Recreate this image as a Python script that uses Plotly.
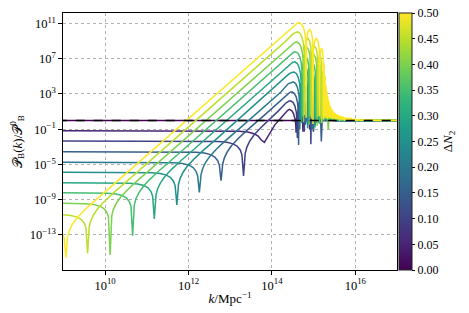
import numpy as np
import plotly.graph_objects as go
from plotly.colors import sample_colorscale

# Delta N_2 values of the curves (colour axis)
delta_n2 = [0.05, 0.10, 0.15, 0.20, 0.25, 0.30, 0.35, 0.40, 0.45, 0.50]

# Points: (log10 k/Mpc^-1, log10 P_B/P_B^0)
curve_dn005 = [(8.9,-1.18),(12.82,-1.19),(13.22,-1.24),(13.42,-1.33),(13.57,-1.51),(13.67,-1.78),(13.74,-2.2),(13.82,-2.5),(13.90,-1.88),(13.97,-1.18),(14.07,-0.51),(14.22,0.3),(14.32,0.85),(14.38,1.15),(14.42,1.25),
    (14.48,1.08),(14.52,0.75),(14.555,0.15),(14.572,-0.5),(14.58,-1.4),
    (14.591,0.2),(14.62,0.9),(14.663,1.16),(14.705,0.9),(14.734,0.2),(14.745,-1.3),
    (14.757,0.1),(14.785,0.78),(14.825,1.05),(14.865,0.78),(14.893,0.1),(14.905,-1.0),
    (14.912,0.0),(14.927,0.65),(14.95,0.92),(14.973,0.65),(14.988,0.0),(14.995,-1.3),
    (15.015,0.6),(15.035,-0.5),(15.06,0.4),(15.08,-0.3),(15.105,0.25),(15.125,-0.15),(15.15,0.15),(15.18,-0.05),(15.22,0.08),(15.27,0.0),(15.35,0.03),(15.5,0.0),(17.1,0.0)]

curve_dn010 = [(8.9,-2.34),(12.32,-2.35),(12.72,-2.40),(12.92,-2.49),(13.07,-2.67),(13.17,-2.94),(13.24,-3.36),(13.28,-3.89),(13.32,-6.3),(13.36,-3.73),(13.40,-3.04),(13.47,-2.34),(13.57,-1.67),(13.72,-0.89),(13.92,0.0),(14.15,1.05),(14.33,1.95),(14.40,2.17),(14.45,2.22),
    (14.51,2.02),(14.55,1.65),(14.585,0.95),(14.602,0.0),(14.61,-2.0),
    (14.621,0.96),(14.65,1.76),(14.693,2.06),(14.735,1.76),(14.764,0.96),(14.775,-1.3),
    (14.787,0.76),(14.815,1.56),(14.855,1.86),(14.895,1.56),(14.923,0.76),(14.935,-2.7),
    (14.942,0.54),(14.957,1.34),(14.98,1.64),(15.003,1.34),(15.018,0.54),(15.025,-0.6),
    (15.045,1.2),(15.065,-0.3),(15.09,0.75),(15.11,-0.1),(15.135,0.48),(15.155,0.0),(15.18,0.3),(15.21,0.0),(15.25,0.15),(15.3,0.0),(15.38,0.05),(15.5,0.0),(17.1,0.0)]

curve_dn015 = [(8.9,-3.56),(11.78,-3.57),(12.18,-3.62),(12.38,-3.71),(12.53,-3.89),(12.63,-4.16),(12.70,-4.58),(12.74,-5.11),(12.78,-6.85),(12.82,-4.95),(12.86,-4.26),(12.93,-3.56),(13.03,-2.89),(13.18,-2.11),(13.38,-1.22),(13.78,0.43),(14.18,2.1),(14.36,2.95),(14.43,3.18),(14.48,3.25),
    (14.54,3.05),(14.58,2.7),(14.615,2.0),(14.632,1.1),(14.64,-2.8),
    (14.651,1.92),(14.68,2.72),(14.723,3.02),(14.765,2.72),(14.794,1.92),(14.805,-0.5),
    (14.817,1.62),(14.845,2.42),(14.885,2.72),(14.925,2.42),(14.953,1.62),(14.965,-1.0),
    (14.972,1.3),(14.987,2.1),(15.01,2.4),(15.033,2.1),(15.048,1.3),(15.055,-0.3),
    (15.075,1.8),(15.095,-0.2),(15.12,1.1),(15.14,0.0),(15.165,0.7),(15.185,-2.4),(15.21,0.45),(15.23,0.0),(15.26,0.3),(15.29,0.0),(15.33,0.15),(15.38,0.0),(15.45,0.05),(15.55,0.0),(17.1,0.0)]

curve_dn020 = [(8.9,-4.76),(11.26,-4.77),(11.66,-4.82),(11.86,-4.91),(12.01,-5.09),(12.11,-5.36),(12.18,-5.78),(12.22,-6.31),(12.26,-8.2),(12.30,-6.15),(12.34,-5.46),(12.41,-4.76),(12.51,-4.09),(12.66,-3.31),(12.86,-2.42),(13.26,-0.77),(14.21,3.2),(14.39,4.15),(14.46,4.33),(14.51,4.38),
    (14.57,4.18),(14.61,3.78),(14.645,3.08),(14.662,2.08),(14.67,-1.0),
    (14.681,2.96),(14.71,3.76),(14.753,4.06),(14.795,3.76),(14.824,2.96),(14.835,-0.2),
    (14.847,2.57),(14.875,3.37),(14.915,3.67),(14.955,3.37),(14.983,2.57),(14.995,-1.2),
    (15.002,2.13),(15.017,2.93),(15.04,3.23),(15.063,2.93),(15.078,2.13),(15.085,0.0),
    (15.105,2.4),(15.125,0.0),(15.15,1.5),(15.17,0.1),(15.195,0.95),(15.215,-0.2),(15.24,0.6),(15.26,0.0),(15.29,0.4),(15.32,0.0),(15.36,0.22),(15.4,0.0),(15.46,0.1),(15.55,0.0),(17.1,0.0)]

curve_dn025 = [(8.9,-5.89),(10.72,-5.9),(11.12,-5.95),(11.32,-6.04),(11.47,-6.22),(11.57,-6.49),(11.64,-6.91),(11.68,-7.44),(11.72,-9.6),(11.76,-7.28),(11.80,-6.59),(11.87,-5.89),(11.97,-5.22),(12.12,-4.44),(12.32,-3.55),(12.72,-1.9),(14.23,4.5),(14.41,5.27),(14.48,5.45),(14.53,5.5),
    (14.59,5.3),(14.63,4.9),(14.665,4.2),(14.682,3.2),(14.69,0.2),
    (14.701,4.0),(14.73,4.8),(14.773,5.1),(14.815,4.8),(14.844,4.0),(14.855,-0.9),
    (14.867,3.51),(14.895,4.31),(14.935,4.61),(14.975,4.31),(15.003,3.51),(15.015,0.2),
    (15.022,2.96),(15.037,3.76),(15.06,4.06),(15.083,3.76),(15.098,2.96),(15.105,-0.3),
    (15.125,3.0),(15.145,0.1),(15.17,1.9),(15.19,0.2),(15.215,1.2),(15.235,-0.1),(15.26,0.8),(15.28,0.05),(15.31,0.5),(15.34,0.0),(15.38,0.3),(15.42,0.0),(15.48,0.15),(15.55,0.0),(17.1,0.0)]

curve_dn030 = [(8.9,-7.07),(10.18,-7.08),(10.58,-7.13),(10.78,-7.22),(10.93,-7.40),(11.03,-7.67),(11.10,-8.09),(11.14,-8.62),(11.18,-11.2),(11.22,-8.46),(11.26,-7.77),(11.33,-7.07),(11.43,-6.4),(11.58,-5.62),(11.78,-4.73),(12.18,-3.08),(14.25,5.6),(14.43,6.4),(14.50,6.6),(14.55,6.65),
    (14.61,6.45),(14.65,6.05),(14.685,5.35),(14.702,4.35),(14.71,-0.3),
    (14.721,5.07),(14.75,5.87),(14.793,6.17),(14.835,5.87),(14.864,5.07),(14.875,0.4),
    (14.887,4.47),(14.915,5.27),(14.955,5.57),(14.995,5.27),(15.023,4.47),(15.035,-0.8),
    (15.042,3.81),(15.057,4.61),(15.08,4.91),(15.103,4.61),(15.118,3.81),(15.125,0.1),
    (15.145,3.6),(15.165,0.1),(15.19,2.3),(15.21,0.3),(15.235,1.4),(15.255,0.0),(15.28,0.95),(15.30,0.1),(15.33,0.6),(15.35,0.0),(15.39,0.4),(15.42,0.02),(15.47,0.25),(15.52,0.0),(15.6,0.12),(15.7,0.0),(17.1,0.0)]

curve_dn035 = [(8.9,-8.21),(9.66,-8.22),(10.06,-8.27),(10.26,-8.36),(10.41,-8.54),(10.51,-8.81),(10.58,-9.23),(10.62,-9.76),(10.66,-13.1),(10.70,-9.6),(10.74,-8.91),(10.81,-8.21),(10.91,-7.54),(11.06,-6.76),(11.26,-5.87),(11.66,-4.22),(14.27,6.75),(14.45,7.55),(14.52,7.75),(14.57,7.8),
    (14.63,7.6),(14.67,7.2),(14.705,6.5),(14.722,5.5),(14.73,0.4),
    (14.741,6.14),(14.77,6.94),(14.813,7.24),(14.855,6.94),(14.884,6.14),(14.895,-0.5),
    (14.907,5.43),(14.935,6.23),(14.975,6.53),(15.015,6.23),(15.043,5.43),(15.055,0.3),
    (15.062,4.66),(15.077,5.46),(15.10,5.76),(15.123,5.46),(15.138,4.66),(15.145,-0.4),
    (15.165,4.2),(15.185,0.2),(15.21,2.7),(15.23,0.3),(15.255,1.7),(15.275,0.1),(15.30,1.1),(15.32,0.2),(15.35,0.7),(15.37,0.05),(15.41,0.5),(15.44,0.05),(15.49,0.32),(15.53,0.0),(15.6,0.2),(15.68,0.0),(15.8,0.08),(16.0,0.0),(17.1,0.0)]

curve_dn040 = [(8.9,-9.41),(9.12,-9.42),(9.52,-9.47),(9.72,-9.56),(9.87,-9.74),(9.97,-10.01),(10.04,-10.43),(10.08,-10.96),(10.12,-15.3),(10.16,-10.8),(10.20,-10.11),(10.27,-9.41),(10.37,-8.74),(10.52,-7.96),(10.72,-7.07),(11.12,-5.42),(14.30,7.8),(14.48,8.65),(14.55,8.85),(14.60,8.9),
    (14.66,8.7),(14.70,8.3),(14.735,7.6),(14.752,6.6),(14.76,-0.2),
    (14.771,7.16),(14.80,7.96),(14.843,8.26),(14.885,7.96),(14.914,7.16),(14.925,0.5),
    (14.937,6.36),(14.965,7.16),(15.005,7.46),(15.045,7.16),(15.073,6.36),(15.085,-0.6),
    (15.092,5.47),(15.107,6.27),(15.13,6.57),(15.153,6.27),(15.168,5.47),(15.175,0.2),
    (15.195,4.8),(15.215,0.3),(15.24,3.2),(15.26,0.2),(15.285,2.2),(15.305,0.4),(15.33,1.5),(15.35,-1.1),(15.38,1.05),(15.40,0.2),(15.43,0.75),(15.46,0.1),(15.50,0.55),(15.53,0.05),(15.58,0.38),(15.63,0.03),(15.70,0.25),(15.78,0.0),(15.88,0.12),(16.0,0.0),(16.2,0.04),(17.1,0.0)]

curve_dn045 = [(8.9,-10.68),(9.18,-10.81),(9.33,-10.99),(9.43,-11.26),(9.50,-11.68),(9.54,-12.21),(9.58,-15.1),(9.62,-12.05),(9.66,-11.36),(9.73,-10.66),(9.83,-9.99),(9.98,-9.21),(10.18,-8.32),(10.58,-6.67),(14.32,8.95),(14.50,9.8),(14.57,10.0),(14.62,10.05),
    (14.68,9.85),(14.72,9.45),(14.755,8.75),(14.772,7.75),(14.78,0.6),
    (14.791,8.23),(14.82,9.03),(14.863,9.33),(14.905,9.03),(14.934,8.23),(14.945,0.2),
    (14.957,7.32),(14.985,8.12),(15.025,8.42),(15.065,8.12),(15.093,7.32),(15.105,0.4),
    (15.112,6.33),(15.127,7.13),(15.15,7.43),(15.173,7.13),(15.188,6.33),(15.195,-0.3),
    (15.215,5.6),(15.235,0.3),(15.26,3.8),(15.28,0.4),(15.305,2.6),(15.325,0.2),(15.35,1.8),(15.37,0.3),(15.40,1.3),(15.42,0.2),(15.45,0.95),(15.47,0.15),(15.51,0.7),(15.54,0.1),(15.58,0.5),(15.62,0.05),(15.68,0.35),(15.74,0.03),(15.82,0.2),(15.9,0.0),(16.0,0.1),(16.15,0.0),(16.35,0.03),(17.1,0.0)]

curve_dn050 = [(8.9,-12.43),(8.98,-12.87),(9.02,-13.4),(9.06,-15.6),(9.10,-13.24),(9.14,-12.55),(9.21,-11.85),(9.31,-11.18),(9.46,-10.4),(9.66,-9.51),(10.06,-7.86),(14.36,10.0),(14.54,10.85),(14.61,11.05),(14.66,11.1),
    (14.72,10.9),(14.76,10.5),(14.795,9.8),(14.812,8.8),(14.82,0.3),
    (14.831,9.2),(14.86,10.0),(14.903,10.3),(14.945,10.0),(14.974,9.2),(14.985,-0.4),
    (14.997,8.2),(15.025,9.0),(15.065,9.3),(15.105,9.0),(15.133,8.2),(15.145,0.5),
    (15.152,7.1),(15.167,7.9),(15.19,8.2),(15.213,7.9),(15.228,7.1),(15.235,0.1),
    (15.25,6.5),(15.262,0.4),(15.275,5.0),(15.285,0.3),(15.297,4.0),(15.307,0.5),(15.318,3.3),(15.327,0.2),(15.337,2.8),(15.346,0.4),(15.356,2.3),(15.365,0.3),(15.375,2.0),(15.384,0.5),(15.394,1.7),(15.403,0.3),(15.413,1.5),(15.422,0.4),(15.432,1.3),(15.441,0.2),(15.452,1.15),(15.462,0.3),(15.473,1.0),(15.484,0.2),(15.496,0.9),(15.508,0.25),(15.52,0.8),(15.533,0.15),(15.546,0.72),(15.56,0.2),(15.575,0.64),(15.59,0.12),(15.605,0.56),(15.62,0.15),(15.64,0.5),(15.66,0.1),(15.68,0.44),(15.70,0.08),(15.72,0.38),(15.745,0.06),(15.77,0.32),(15.80,0.04),(15.83,0.27),(15.86,0.03),(15.9,0.22),(15.94,0.02),(15.98,0.17),(16.03,0.01),(16.08,0.12),(16.14,0.0),(16.2,0.08),(16.28,0.0),(16.36,0.05),(16.5,0.0),(16.65,0.02),(17.1,0.0)]

curves = [curve_dn005, curve_dn010, curve_dn015, curve_dn020, curve_dn025,
          curve_dn030, curve_dn035, curve_dn040, curve_dn045, curve_dn050]

x_tick_vals = [1e10, 1e12, 1e14, 1e16]
x_tick_text = ["10<sup>10</sup>", "10<sup>12</sup>", "10<sup>14</sup>", "10<sup>16</sup>"]
y_tick_vals = [1e-13, 1e-9, 1e-5, 1e-1, 1e3, 1e7, 1e11]
y_tick_text = ["10<sup>−13</sup>", "10<sup>−9</sup>", "10<sup>−5</sup>", "10<sup>−1</sup>",
               "10<sup>3</sup>", "10<sup>7</sup>", "10<sup>11</sup>"]
cbar_ticks = [0.00, 0.05, 0.10, 0.15, 0.20, 0.25, 0.30, 0.35, 0.40, 0.45, 0.50]

FONT = "Liberation Serif"
fig = go.Figure()

# reference curve Delta N_2 = 0
fig.add_trace(go.Scatter(x=[1e8, 1e18], y=[1, 1], mode="lines",
                         line=dict(color=sample_colorscale("Viridis", [0.0])[0], width=1.5),
                         showlegend=False, hoverinfo="skip"))

for dn, pts in zip(delta_n2, curves):
    arr = np.array(pts)
    col = sample_colorscale("Viridis", [dn / 0.5])[0]
    fig.add_trace(go.Scatter(x=10 ** arr[:, 0], y=10 ** arr[:, 1], mode="lines",
                             line=dict(color=col, width=1.5),
                             showlegend=False, hoverinfo="skip"))

fig.add_trace(go.Scatter(x=[1e8, 1e18], y=[1, 1], mode="lines",
                         line=dict(color="black", width=1.5, dash="dash"),
                         showlegend=False, hoverinfo="skip"))

# colour bar
fig.add_trace(go.Scatter(x=[None], y=[None], mode="markers",
                         marker=dict(color=[0], colorscale="Viridis", cmin=0, cmax=0.5,
                                     showscale=True,
                                     colorbar=dict(x=1.006, xanchor="left", xpad=0, y=0.5, yanchor="middle",
                                                   ypad=0, len=1, lenmode="fraction", thickness=13,
                                                   outlinewidth=1, outlinecolor="#222",
                                                   tickvals=cbar_ticks, ticktext=[f"{v:.2f}" for v in cbar_ticks],
                                                   ticks="outside", ticklen=3, tickcolor="black",
                                                   tickfont=dict(family=FONT, size=12, color="black"),
                                                   title=dict(text="Δ<i>N</i><sub>2</sub>", side="right",
                                                              font=dict(family=FONT, size=13, color="black")))),
                         showlegend=False, hoverinfo="skip"))

axis_common = dict(showline=True, linecolor="black", linewidth=1.3, mirror=True,
                   ticks="outside", ticklen=3.5, tickwidth=1, tickcolor="black",
                   showgrid=True, gridcolor="#b0b0b0", gridwidth=0.8, griddash="dot",
                   zeroline=False, automargin=False,
                   tickfont=dict(family=FONT, size=12.5, color="black"))

fig.update_xaxes(type="log", range=[8.99, 17.0], tickvals=x_tick_vals, ticktext=x_tick_text,
                 title=dict(text="<i>k</i>/Mpc<sup>−1</sup>", font=dict(family=FONT, size=13, color="black"), standoff=2),
                 **axis_common)
fig.update_yaxes(type="log", range=[-17.0, 12.2], tickvals=y_tick_vals, ticktext=y_tick_text,
                 title=dict(text="𝒫<sub>B</sub>(<i>k</i>)/𝒫<sup>0</sup><sub>B</sub>",
                            font=dict(family=FONT, size=13, color="black"), standoff=4),
                 **axis_common)

fig.update_layout(width=469, height=313,
                  margin=dict(l=63, r=72, t=13, b=43, autoexpand=False),
                  plot_bgcolor="white", paper_bgcolor="white",
                  font=dict(family=FONT, color="black"))

fig.write_html("out.html", config={"displayModeBar": False},
               post_script="document.body.style.margin='0px';document.body.style.overflow='hidden';")
